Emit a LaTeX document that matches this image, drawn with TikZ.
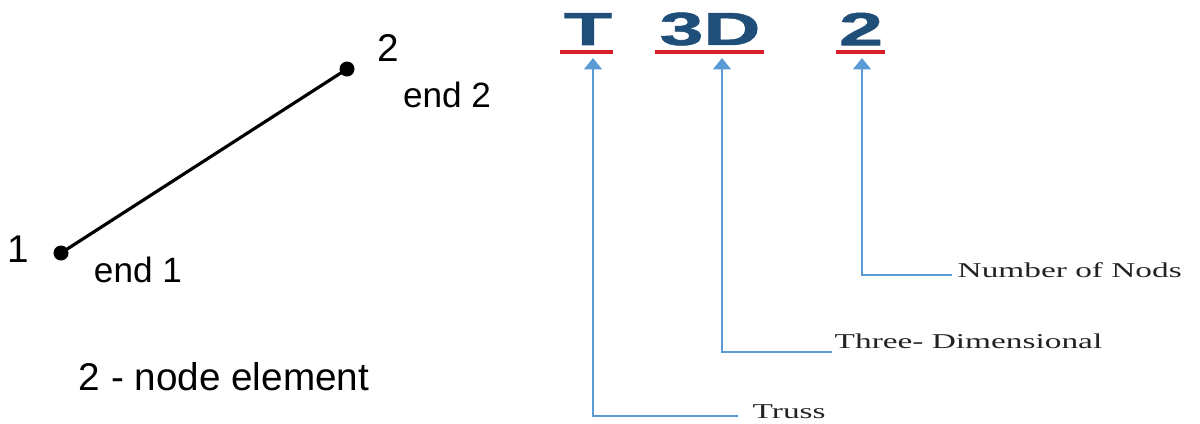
\documentclass[tikz,border=0pt]{standalone}
\usepackage{fontspec}
\setmainfont{Liberation Serif}
\setsansfont{Liberation Sans}
\newfontfamily\heavysans[FakeBold=1.2]{Liberation Sans Bold}
\usetikzlibrary{arrows.meta}
\definecolor{linkblue}{HTML}{5B9BD5}
\definecolor{ulred}{HTML}{D9202A}
\definecolor{letterblue}{HTML}{1F4E79}
\definecolor{labelgray}{HTML}{222222}
\tikzset{
  sanslabel/.style={font=\sffamily\fontsize{10}{12}\selectfont, inner sep=0pt},
  biglabel/.style={font=\sffamily\fontsize{11}{13}\selectfont, inner sep=0pt},
  dotnode/.style={circle, fill=black, inner sep=0pt, minimum size=0.15cm},
  member/.style={line width=0.9pt, black},
  codeletter/.style={font=\heavysans\fontsize{13.2}{15}\selectfont, text=letterblue, inner sep=0pt},
  underl/.style={line width=1.15pt, ulred},
  link/.style={line width=0.7pt, linkblue, -{Triangle[width=5pt,length=3.2pt]}},
  desc/.style={font=\rmfamily\fontsize{6}{7}\selectfont, text=labelgray, inner sep=0pt, anchor=base west}
}
\newcommand{\wide}[1]{\scalebox{1.58}[1]{#1}}
\newcommand{\widebig}[1]{\scalebox{1.7}[1]{#1}}
\begin{document}
\begin{tikzpicture}[x=0.01cm,y=-0.01cm]
\useasboundingbox (0,0) rectangle (1200,423);
% left: 2-node element
\node[dotnode] (n1) at (61,253) {};
\node[dotnode] (n2) at (347,69) {};
\draw[member] (n1.center) -- (n2.center);
\node[biglabel] (l1) at (18,249) {1};
\node[biglabel] (l2) at (388,48) {2};
\node[sanslabel] (e2) at (447,95) {end 2};
\node[sanslabel] (e1) at (138,270) {end 1};
\node[biglabel] (cap) at (224,377) {2 - node element};
% right: code letters
\node[codeletter] (T) at (588,29) {\widebig{T}};
\node[codeletter] (D3) at (710,29) {\widebig{3D}};
\node[codeletter] (N2) at (861,29) {\widebig{2}};
\coordinate (uTa) at (560,52); \coordinate (uTb) at (613,52);
\coordinate (uDa) at (655,52); \coordinate (uDb) at (764,52);
\coordinate (uNa) at (836,52); \coordinate (uNb) at (885,52);
\draw[underl] (uTa) -- (uTb);
\draw[underl] (uDa) -- (uDb);
\draw[underl] (uNa) -- (uNb);
% descriptions
\node[desc] (truss) at (752,418) {\wide{Truss}};
\node[desc] (three) at (834,348) {\wide{Three- Dimensional}};
\node[desc] (numb) at (957,277) {\wide{Number of Nods}};
% connectors
\coordinate (tT) at (593,58);
\coordinate (tD) at (722,58);
\coordinate (tN) at (862,58);
\coordinate (eT) at (738,416);
\coordinate (eD) at (832,352);
\coordinate (eN) at (952,275);
\draw[link] (eT) -| (tT);
\draw[link] (eD) -| (tD);
\draw[link] (eN) -| (tN);
\end{tikzpicture}
\end{document}
